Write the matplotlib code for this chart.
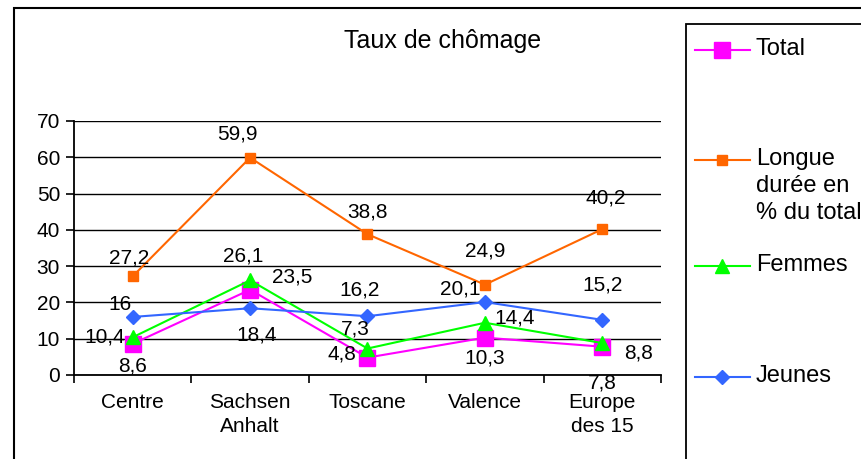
import matplotlib
matplotlib.use('Agg')
import matplotlib.pyplot as plt
from matplotlib.lines import Line2D
from matplotlib.patches import Rectangle

plt.rcParams['font.family'] = ['Liberation Sans', 'DejaVu Sans']

# data
categories = ['Centre', 'Sachsen\nAnhalt', 'Toscane', 'Valence', 'Europe\ndes 15']
total = [8.6, 23.5, 4.8, 10.3, 7.8]
longue = [27.2, 59.9, 38.8, 24.9, 40.2]
femmes = [10.4, 26.1, 7.3, 14.4, 8.8]
jeunes = [16, 18.4, 16.2, 20.1, 15.2]

W, H = 862, 459
fig = plt.figure(figsize=(W / 100, H / 100), dpi=100)


def fx(px):
    return px / W


def fy(py):
    return 1 - py / H


# outer frame
fig.add_artist(Rectangle((fx(14), fy(470)), fx(900), 470 / H - 8 / H,
                         transform=fig.transFigure, fill=False,
                         edgecolor='black', linewidth=1.5))

ax = fig.add_axes([fx(74), fy(375), fx(661 - 74), (375 - 121) / H])
x = list(range(len(categories)))

series = [
    ('Total', total, '#FF00FF', 's', 12),
    ('Longue\ndurée en\n% du total', longue, '#FF6600', 's', 7),
    ('Femmes', femmes, '#00FF00', '^', 10),
    ('Jeunes', jeunes, '#3366FF', 'D', 7),
]

# label offsets in pixels (dx, dy), per series / category
offsets = [
    [(0, -22), (42, 13), (-26, 4), (0, -20), (0, -36)],
    [(-4, 18), (-13, 24), (0, 22), (0, 34), (3, 31)],
    [(-28, 0), (-7, 24), (-12, 20), (30, 5), (36, -10)],
    [(-13, 12), (7, -27), (-8, 26), (-25, 13), (0, 35)],
]

handles = []
for (name, vals, col, mk, ms), offs in zip(series, offsets):
    ln, = ax.plot(x, vals, color=col, marker=mk, markersize=ms, linewidth=1.5,
                  markerfacecolor=col, markeredgecolor=col, clip_on=False, zorder=3)
    handles.append(ln)
    for xi, v, (dx, dy) in zip(x, vals, offs):
        ax.annotate(f'{v:g}'.replace('.', ','), (xi, v),
                    xytext=(dx * 0.72, dy * 0.72), textcoords='offset points',
                    ha='center', va='center', fontsize=15, zorder=4)

ax.set_xlim(-0.5, len(categories) - 0.5)
ax.set_ylim(0, 70)
ax.set_yticks(range(0, 71, 10))
ax.yaxis.grid(True, color='black', linewidth=1.0)
ax.set_axisbelow(True)
ax.set_xticks([i - 0.5 for i in range(len(categories) + 1)])
ax.set_xticklabels([])
ax.set_xticks(x, minor=True)
ax.set_xticklabels(categories, minor=True, fontsize=15, linespacing=1.3)
ax.tick_params(axis='x', which='major', direction='out', length=6, width=1.2)
ax.tick_params(axis='x', which='minor', length=0, pad=13)
ax.tick_params(axis='y', direction='out', length=6, width=1.2, labelsize=15, pad=4)
for side in ['top', 'right']:
    ax.spines[side].set_visible(False)
for side in ['left', 'bottom']:
    ax.spines[side].set_linewidth(1.3)

fig.text(fx(443), fy(41), 'Taux de chômage', ha='center', va='center', fontsize=18)

# legend box
fig.add_artist(Rectangle((fx(686), fy(470)), fx(200), (470 - 24) / H,
                         transform=fig.transFigure, fill=False,
                         edgecolor='black', linewidth=1.3))
leg_y = [50, 160, 266, 377]
for h, (name, vals, col, mk, ms), ly in zip(handles, series, leg_y):
    fig.add_artist(Line2D([fx(695), fx(750)], [fy(ly), fy(ly)],
                          transform=fig.transFigure, color=col, linewidth=1.5))
    fig.add_artist(Line2D([fx(722)], [fy(ly)], transform=fig.transFigure,
                          marker=mk, markersize=ms, color=col))
    fig.text(fx(756), fy(ly - 12), name, ha='left', va='top', fontsize=17,
             linespacing=1.3)

fig.savefig('out.png', dpi=100)
